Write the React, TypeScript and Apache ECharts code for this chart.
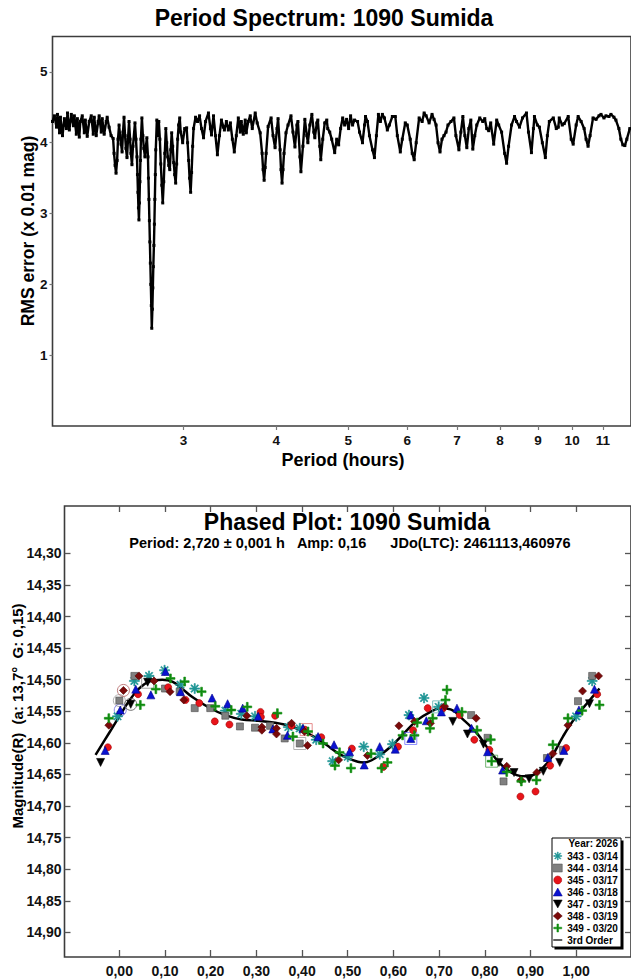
import React, { useEffect, useRef } from "react";
import * as echarts from "echarts";

// ---------- Period spectrum ----------
const spectrumPeriod = [
  2.000, 2.012, 2.025, 2.031, 2.044, 2.050, 2.063, 2.075, 2.088, 2.095,
  2.107, 2.120, 2.134, 2.140, 2.153, 2.160, 2.173, 2.180, 2.193, 2.207,
  2.214, 2.227, 2.241, 2.255, 2.269, 2.276, 2.290, 2.304, 2.311, 2.326,
  2.333, 2.347, 2.362, 2.369, 2.383, 2.398, 2.413, 2.420, 2.428, 2.435,
  2.443, 2.450, 2.458, 2.466, 2.473, 2.481, 2.488, 2.496, 2.504, 2.511,
  2.519, 2.527, 2.535, 2.543, 2.550, 2.558, 2.566, 2.582, 2.590, 2.598,
  2.602, 2.606, 2.610, 2.614, 2.618, 2.622, 2.626, 2.630, 2.638, 2.646,
  2.654, 2.663, 2.671, 2.679, 2.688, 2.692, 2.696, 2.700, 2.704, 2.708,
  2.712, 2.716, 2.720, 2.725, 2.729, 2.733, 2.738, 2.742, 2.746, 2.750,
  2.754, 2.763, 2.771, 2.780, 2.789, 2.797, 2.806, 2.814, 2.823, 2.832,
  2.841, 2.849, 2.858, 2.867, 2.876, 2.885, 2.893, 2.902, 2.911, 2.920,
  2.929, 2.938, 2.947, 2.956, 2.966, 2.975, 2.993, 3.012, 3.030, 3.039,
  3.049, 3.058, 3.068, 3.077, 3.087, 3.096, 3.115, 3.134, 3.154, 3.173,
  3.193, 3.213, 3.242, 3.262, 3.273, 3.293, 3.313, 3.333, 3.354, 3.375,
  3.396, 3.406, 3.427, 3.448, 3.470, 3.491, 3.512, 3.534, 3.556, 3.578,
  3.589, 3.611, 3.633, 3.645, 3.667, 3.690, 3.713, 3.747, 3.770, 3.805,
  3.828, 3.840, 3.852, 3.864, 3.876, 3.900, 3.936, 3.960, 3.985, 4.009,
  4.022, 4.047, 4.059, 4.072, 4.084, 4.097, 4.122, 4.148, 4.186, 4.212,
  4.238, 4.264, 4.277, 4.304, 4.317, 4.344, 4.370, 4.397, 4.411, 4.438,
  4.466, 4.493, 4.507, 4.535, 4.549, 4.577, 4.591, 4.619, 4.648, 4.677,
  4.691, 4.720, 4.749, 4.793, 4.823, 4.852, 4.882, 4.913, 4.943, 4.973,
  5.004, 5.035, 5.066, 5.097, 5.145, 5.176, 5.224, 5.257, 5.273, 5.305,
  5.338, 5.388, 5.421, 5.454, 5.488, 5.522, 5.556, 5.591, 5.642, 5.677,
  5.730, 5.783, 5.819, 5.873, 5.909, 5.964, 6.001, 6.056, 6.094, 6.131,
  6.169, 6.226, 6.284, 6.323, 6.362, 6.421, 6.480, 6.520, 6.561, 6.601,
  6.642, 6.683, 6.724, 6.766, 6.808, 6.871, 6.934, 6.977, 7.042, 7.085,
  7.129, 7.173, 7.217, 7.262, 7.307, 7.352, 7.397, 7.443, 7.512, 7.582,
  7.629, 7.676, 7.723, 7.771, 7.843, 7.916, 7.965, 8.038, 8.113, 8.163,
  8.213, 8.289, 8.366, 8.418, 8.496, 8.575, 8.681, 8.735, 8.816, 8.870,
  8.898, 8.980, 9.036, 9.119, 9.204, 9.261, 9.318, 9.433, 9.521, 9.580,
  9.609, 9.698, 9.758, 9.879, 9.971, 10.032, 10.125, 10.188, 10.282, 10.378,
  10.442, 10.506, 10.571, 10.669, 10.768, 10.868, 10.935, 11.036, 11.105, 11.208,
  11.277, 11.382, 11.452, 11.558, 11.629, 11.701, 11.773, 11.846, 11.956,
];
const spectrumRms = [
  4.30, 4.38, 4.22, 4.40, 4.14, 4.36, 4.10, 4.34, 4.20, 4.42,
  4.18, 4.40, 4.24, 4.38, 4.12, 4.34, 4.08, 4.30, 4.38, 4.14,
  4.32, 4.09, 4.30, 4.38, 4.12, 4.36, 4.10, 4.30, 4.38, 4.15,
  4.34, 4.12, 4.30, 4.36, 4.22, 4.10, 4.06, 3.85, 3.68, 3.57,
  3.75, 4.05, 4.25, 4.10, 3.98, 3.87, 4.15, 4.36, 4.10, 3.92,
  3.79, 4.05, 4.30, 4.05, 3.85, 3.69, 3.95, 4.28, 4.05, 3.80,
  3.55, 3.30, 3.08, 2.91, 3.15, 3.45, 3.75, 4.05, 4.35, 4.10,
  3.92, 3.80, 3.95, 4.07, 3.80, 3.50, 3.20, 2.90, 2.60, 2.30,
  2.00, 1.70, 1.38, 1.65, 1.95, 2.25, 2.55, 2.85, 3.20, 3.55,
  3.90, 4.32, 4.10, 4.30, 4.05, 3.70, 3.40, 3.15, 3.45, 3.85,
  4.20, 4.00, 3.80, 3.68, 3.62, 3.90, 4.14, 3.95, 3.72, 3.55,
  3.43, 3.70, 4.05, 4.25, 4.35, 4.15, 4.00, 4.20, 4.21, 4.00,
  3.75, 3.50, 3.30, 3.58, 3.95, 4.20, 4.36, 4.30, 4.38, 4.20,
  4.07, 4.30, 4.42, 4.20, 4.11, 4.38, 4.10, 3.83, 4.10, 4.32,
  4.22, 4.18, 4.30, 4.18, 4.28, 4.05, 3.87, 4.10, 4.35, 4.15,
  4.30, 4.12, 4.32, 4.14, 4.30, 4.38, 4.20, 4.42, 4.28, 4.14,
  3.85, 3.62, 3.47, 3.65, 3.85, 4.23, 4.35, 4.10, 3.93, 4.20,
  4.34, 3.90, 3.62, 3.43, 3.62, 3.85, 4.14, 4.25, 4.38, 4.15,
  3.94, 4.25, 4.30, 3.80, 3.59, 3.95, 4.33, 4.10, 4.00, 4.25,
  4.40, 4.15, 4.07, 4.28, 4.32, 3.95, 3.76, 4.05, 4.28, 4.32,
  4.20, 4.15, 4.05, 3.86, 4.05, 3.97, 4.20, 4.35, 4.25, 4.33,
  4.20, 4.38, 4.25, 4.32, 4.30, 4.15, 4.00, 4.25, 4.37, 4.30,
  4.10, 3.90, 3.79, 4.10, 4.40, 4.30, 4.40, 4.35, 4.18, 4.25,
  4.37, 4.37, 4.10, 3.87, 4.05, 4.28, 4.25, 4.05, 3.85, 3.76,
  4.00, 4.35, 4.30, 4.42, 4.38, 4.28, 4.40, 4.33, 4.25, 4.00,
  3.87, 4.05, 4.10, 4.15, 4.25, 4.30, 4.35, 4.10, 3.90, 4.15,
  4.37, 4.10, 3.93, 4.20, 4.32, 3.91, 4.10, 4.25, 4.35, 4.30,
  4.34, 4.20, 4.17, 4.28, 3.98, 4.32, 4.25, 4.15, 3.85, 3.71,
  3.95, 4.25, 4.37, 4.30, 4.22, 4.35, 4.42, 4.15, 3.86, 4.20,
  4.37, 4.25, 4.22, 4.00, 3.79, 4.10, 4.30, 4.35, 4.20, 4.22,
  4.35, 4.25, 4.27, 4.37, 4.05, 3.98, 4.25, 4.37, 4.30, 4.20,
  4.05, 3.95, 4.10, 4.35, 4.33, 4.38, 4.40, 4.35, 4.38, 4.37,
  4.40, 4.36, 4.32, 4.20, 4.05, 3.97, 3.96, 4.05, 4.20,
];
const periodTicks = [3, 4, 5, 6, 7, 8, 9, 10, 11];
const rmsTicks = [1, 2, 3, 4, 5];

// ---------- Phased plot ----------
const phaseTicks = [0, 0.1, 0.2, 0.3, 0.4, 0.5, 0.6, 0.7, 0.8, 0.9, 1.0];
const magTicks = [14.3, 14.35, 14.4, 14.45, 14.5, 14.55, 14.6, 14.65, 14.7, 14.75, 14.8, 14.85, 14.9];

const fitPhase = [
  -0.052, -0.022, 0.0, 0.022, 0.043, 0.065, 0.094, 0.116, 0.137, 0.159,
  0.196, 0.232, 0.268, 0.304, 0.341, 0.377, 0.413, 0.449, 0.485, 0.522,
  0.536, 0.565, 0.594, 0.623, 0.652, 0.681, 0.703, 0.725, 0.754, 0.783,
  0.812, 0.841, 0.870, 0.891, 0.913, 0.942, 0.971, 1.0, 1.029, 1.051,
];
const fitMag = [
  14.619, 14.584, 14.558, 14.533, 14.514, 14.503, 14.500, 14.503, 14.514, 14.527,
  14.544, 14.556, 14.563, 14.565, 14.568, 14.574, 14.585, 14.601, 14.619, 14.630,
  14.631, 14.622, 14.606, 14.585, 14.564, 14.551, 14.545, 14.547, 14.564, 14.585,
  14.614, 14.638, 14.651, 14.653, 14.648, 14.627, 14.590, 14.558, 14.533, 14.514,
];

const s343 = [
  [-0.004, 14.558], [0.033, 14.502], [0.065, 14.494], [0.099, 14.485], [0.134, 14.508],
  [0.165, 14.514], [0.232, 14.549], [0.267, 14.554], [0.297, 14.558], [0.370, 14.575],
  [0.395, 14.577], [0.431, 14.595], [0.467, 14.629], [0.500, 14.622], [0.535, 14.606],
  [0.570, 14.618], [0.598, 14.602], [0.634, 14.556], [0.667, 14.529], [0.699, 14.543],
  [1.000, 14.558], [1.035, 14.502],
];
const s344 = [
  [0.000, 14.533], [0.033, 14.494], [0.100, 14.514], [0.132, 14.519], [0.165, 14.545],
  [0.199, 14.545], [0.232, 14.557], [0.264, 14.574], [0.297, 14.576], [0.330, 14.573],
  [0.362, 14.593], [0.395, 14.601], [0.770, 14.556], [0.806, 14.592], [0.841, 14.661],
  [0.936, 14.624], [0.971, 14.611], [1.004, 14.534], [1.035, 14.494],
];
const s345 = [
  [-0.025, 14.607], [0.041, 14.523], [0.107, 14.512], [0.145, 14.532], [0.175, 14.537],
  [0.209, 14.566], [0.241, 14.571], [0.309, 14.551], [0.310, 14.559], [0.341, 14.557],
  [0.377, 14.573], [0.406, 14.579], [0.442, 14.591], [0.509, 14.609], [0.578, 14.638],
  [0.610, 14.606], [0.643, 14.580], [0.675, 14.545], [0.709, 14.545], [0.745, 14.556],
  [0.777, 14.595], [0.810, 14.611], [0.878, 14.685], [0.911, 14.677], [0.943, 14.636],
  [0.978, 14.608], [1.046, 14.523],
];
const s346 = [
  [-0.031, 14.612], [0.002, 14.548], [0.036, 14.515], [0.069, 14.524], [0.101, 14.487],
  [0.134, 14.519], [0.203, 14.529], [0.237, 14.538], [0.270, 14.545], [0.304, 14.558],
  [0.336, 14.578], [0.368, 14.588], [0.402, 14.577], [0.435, 14.590], [0.470, 14.603],
  [0.504, 14.614], [0.536, 14.635], [0.570, 14.606], [0.604, 14.610], [0.638, 14.593],
  [0.638, 14.556], [0.672, 14.565], [0.705, 14.551], [0.739, 14.545], [0.771, 14.577],
  [0.806, 14.614], [0.839, 14.643], [0.938, 14.623], [0.973, 14.612], [1.006, 14.548],
  [1.040, 14.515],
];
const s347 = [
  [-0.041, 14.631], [0.025, 14.539], [0.062, 14.504], [0.730, 14.566], [0.762, 14.586],
  [0.797, 14.602], [0.831, 14.631], [0.864, 14.647], [0.897, 14.657], [0.928, 14.645],
  [0.964, 14.631], [1.029, 14.538],
];
const s348 = [
  [-0.023, 14.572], [0.009, 14.517], [0.043, 14.494], [0.076, 14.502], [0.111, 14.519],
  [0.141, 14.532], [0.279, 14.557], [0.312, 14.575], [0.312, 14.580], [0.344, 14.577],
  [0.344, 14.586], [0.377, 14.569], [0.405, 14.582], [0.412, 14.604], [0.480, 14.627],
  [0.543, 14.620], [0.612, 14.573], [0.646, 14.566], [0.681, 14.569], [0.712, 14.542],
  [0.781, 14.561], [0.848, 14.637], [0.879, 14.659], [0.914, 14.647], [0.949, 14.617],
  [0.982, 14.572], [1.014, 14.518], [1.049, 14.494],
];
const s349 = [
  [-0.023, 14.561], [0.046, 14.540], [0.080, 14.515], [0.112, 14.498], [0.143, 14.503],
  [0.180, 14.519], [0.210, 14.542], [0.245, 14.548], [0.280, 14.543], [0.346, 14.553],
  [0.380, 14.590], [0.413, 14.582], [0.446, 14.601], [0.472, 14.636], [0.482, 14.615],
  [0.507, 14.640], [0.551, 14.617], [0.574, 14.640], [0.587, 14.631], [0.620, 14.588],
  [0.646, 14.588], [0.652, 14.568], [0.680, 14.577], [0.686, 14.561], [0.714, 14.532],
  [0.717, 14.516], [0.750, 14.551], [0.783, 14.580], [0.813, 14.595], [0.815, 14.629],
  [0.848, 14.646], [0.880, 14.661], [0.913, 14.659], [0.949, 14.603], [0.982, 14.561],
  [1.013, 14.549], [1.051, 14.540],
];
// open markers drawn around selected observations
const markPhase = [0.000, 0.002, 0.009, 0.025, 0.062, 0.395, 0.409, 0.638, 0.699, 0.815];
const markMag = [14.533, 14.548, 14.517, 14.539, 14.504, 14.601, 14.579, 14.593, 14.543, 14.629];
const markShape = ["circle", "circle", "circle", "circle", "rect", "rect", "rect", "rect", "rect", "rect"];
const markColor = ["#a0a0a0", "#7070e0", "#b06060", "#505050", "#909090", "#a0a0a0", "#e07070", "#7070ff", "#60b0b0", "#50a050"];

const FONT = "'Liberation Sans', Arial, Helvetica, sans-serif";

const ASTERISK =
  "path://M0 8.8H20V11.2H0Z M8.8 0H11.2V20H8.8Z M2.08 3.78L3.78 2.08L17.92 16.22L16.22 17.92Z M16.22 2.08L17.92 3.78L3.78 17.92L2.08 16.22Z";
const PLUS = "path://M8 0H12V8H20V12H12V20H8V12H0V8H8Z";
const DOWN_TRI = "path://M0 0H20L10 18Z";
const LINE_ICON = "path://M0 8.6H20V11.4H0Z";

const comma = (v: number) => v.toFixed(2).replace(".", ",");
const NB = "\u00A0";

export default function App() {
  const ref = useRef<HTMLDivElement>(null);
  useEffect(() => {
    if (!ref.current) return;
    const chart = echarts.init(ref.current, undefined, { renderer: "svg" });

    const sessions = [
      { name: "343 - 03/14", data: s343, symbol: ASTERISK, icon: ASTERISK, size: 10, color: "#1f9595", border: "#1f9595", rotate: 0 },
      { name: "344 - 03/14", data: s344, symbol: "rect", icon: "rect", size: 7, color: "#808080", border: "#4a4a4a", rotate: 0 },
      { name: "345 - 03/17", data: s345, symbol: "circle", icon: "circle", size: 7, color: "#e8141a", border: "#a00000", rotate: 0 },
      { name: "346 - 03/18", data: s346, symbol: "triangle", icon: "triangle", size: 8, color: "#0a12d0", border: "#00008a", rotate: 0 },
      { name: "347 - 03/19", data: s347, symbol: "triangle", icon: DOWN_TRI, size: 8, color: "#000000", border: "#000000", rotate: 180 },
      { name: "348 - 03/19", data: s348, symbol: "diamond", icon: "diamond", size: 8, color: "#7a0a0a", border: "#500000", rotate: 0 },
      { name: "349 - 03/20", data: s349, symbol: PLUS, icon: PLUS, size: 9, color: "#0f8c0f", border: "#0f8c0f", rotate: 0 },
    ];

    const lbl = { fontFamily: FONT, fontWeight: "bold" as const, color: "#111" };
    const noLine = { show: false, onZero: false };
    const tickStyle = { color: "#555", width: 1.3 };

    const option: any = {
      animation: false,
      backgroundColor: "#ffffff",
      grid: [
        { left: 52.5, top: 36.5, width: 582.4, height: 389.5, show: true, borderColor: "#3c3c3c", borderWidth: 1.6, backgroundColor: "transparent" },
        { left: 64.5, top: 506, width: 570.4, height: 451, show: true, borderColor: "#3c3c3c", borderWidth: 1.6, backgroundColor: "transparent" },
      ],
      xAxis: [
        {
          gridIndex: 0, type: "value", min: Math.log10(2), max: Math.log10(12),
          axisLine: noLine, splitLine: { show: false },
          axisTick: { show: true, inside: false, length: 4, customValues: periodTicks.map((p) => Math.log10(p)), lineStyle: { color: "#777", width: 1.2 } },
          axisLabel: {
            ...lbl, fontSize: 13.5, margin: 7,
            customValues: periodTicks.map((p) => Math.log10(p)),
            formatter: (v: number) => String(Math.round(Math.pow(10, v))),
          },
        },
        {
          gridIndex: 1, type: "value", min: -0.12, max: 1.12, position: "bottom",
          axisLine: noLine, splitLine: { show: false },
          axisTick: { show: true, inside: true, length: 7, customValues: phaseTicks, lineStyle: tickStyle },
          axisLabel: { ...lbl, fontSize: 14, margin: 7, customValues: phaseTicks, formatter: (v: number) => comma(v) },
        },
        {
          gridIndex: 1, type: "value", min: -0.12, max: 1.12, position: "top",
          axisLine: noLine, splitLine: { show: false },
          axisTick: { show: true, inside: true, length: 6, customValues: phaseTicks, lineStyle: tickStyle },
          axisLabel: { show: false },
        },
      ],
      yAxis: [
        {
          gridIndex: 0, type: "value", min: 0, max: 5.5,
          axisLine: noLine, splitLine: { show: false },
          axisTick: { show: true, inside: false, length: 3, customValues: rmsTicks, lineStyle: { color: "#777", width: 1.2 } },
          axisLabel: { ...lbl, fontSize: 13.5, margin: 5, customValues: rmsTicks },
        },
        {
          gridIndex: 1, type: "value", min: 14.225, max: 14.939, inverse: true, position: "left",
          axisLine: noLine, splitLine: { show: false },
          axisTick: { show: true, inside: true, length: 6, customValues: magTicks, lineStyle: tickStyle },
          axisLabel: { ...lbl, fontSize: 14, margin: 3, customValues: magTicks, formatter: (v: number) => comma(v) },
        },
        {
          gridIndex: 1, type: "value", min: 14.225, max: 14.939, inverse: true, position: "right",
          axisLine: noLine, splitLine: { show: false },
          axisTick: { show: true, inside: true, length: 6, customValues: magTicks, lineStyle: tickStyle },
          axisLabel: { show: false },
        },
      ],
      legend: {
        show: true, orient: "vertical", left: 553, top: 850, padding: 0,
        itemWidth: 9, itemHeight: 8, itemGap: 0, selectedMode: false,
        textStyle: { fontFamily: FONT, fontWeight: "bold", fontSize: 10, color: "#000", lineHeight: 12 },
        data: [
          ...sessions.map((s) => ({ name: s.name, icon: s.icon, itemStyle: { color: s.color, borderColor: s.border, borderWidth: 0.5 } })),
          { name: "3rd Order", icon: LINE_ICON, itemStyle: { color: "#000", borderWidth: 0 } },
        ],
        z: 10,
      },
      graphic: [
        { type: "text", x: 324, y: 18, style: { text: "Period Spectrum: 1090 Sumida", font: `bold 23px ${FONT}`, fill: "#000", textAlign: "center", textVerticalAlign: "middle" } },
        { type: "text", x: 28, y: 231, rotation: Math.PI / 2, style: { text: "RMS error (x 0.01 mag)", font: `bold 17.5px ${FONT}`, fill: "#000", textAlign: "center", textVerticalAlign: "middle" } },
        { type: "text", x: 343, y: 460, style: { text: "Period (hours)", font: `bold 18px ${FONT}`, fill: "#000", textAlign: "center", textVerticalAlign: "middle" } },
        { type: "text", x: 347, y: 522, style: { text: "Phased Plot: 1090 Sumida", font: `bold 23px ${FONT}`, fill: "#000", textAlign: "center", textVerticalAlign: "middle" } },
        { type: "text", x: 350, y: 542.5, style: { text: `Period: 2,720 ± 0,001 h${NB}${NB}${NB}Amp: 0,16${NB}${NB}${NB}${NB}${NB}${NB}JDo(LTC): 2461113,460976`, font: `bold 14.5px ${FONT}`, fill: "#000", textAlign: "center", textVerticalAlign: "middle" } },
        { type: "text", x: 17, y: 716, rotation: Math.PI / 2, style: { text: `Magnitude(R)${NB}${NB}(a: 13,7°${NB}${NB}G: 0,15)`, font: `bold 15px ${FONT}`, fill: "#000", textAlign: "center", textVerticalAlign: "middle" } },
        { type: "rect", z: 5, shape: { x: 554.5, y: 840.5, width: 69, height: 109 }, style: { fill: "#000" } },
        { type: "rect", z: 6, shape: { x: 552, y: 838, width: 69, height: 109 }, style: { fill: "#fff", stroke: "#000", lineWidth: 1 } },
        { type: "text", z: 7, x: 618, y: 843.5, style: { text: "Year: 2026", font: `bold 10px ${FONT}`, fill: "#000", textAlign: "right", textVerticalAlign: "middle" } },
      ],
      series: [
        {
          type: "line", name: "spectrum", xAxisIndex: 0, yAxisIndex: 0,
          data: spectrumPeriod.map((p, i) => [Math.log10(p), spectrumRms[i]]),
          symbol: "rect", symbolSize: 3, showSymbol: true,
          lineStyle: { color: "#000", width: 2.4 }, itemStyle: { color: "#000" },
          silent: true,
        },
        {
          type: "line", name: "3rd Order", xAxisIndex: 1, yAxisIndex: 1,
          data: fitPhase.map((p, i) => [p, fitMag[i]]),
          smooth: 0.4, symbol: "none", showSymbol: false,
          lineStyle: { color: "#000", width: 2.5 }, itemStyle: { color: "#000" }, z: 2,
        },
        {
          type: "scatter", name: "marks", xAxisIndex: 1, yAxisIndex: 1, z: 2,
          data: markPhase.map((p, i) => ({
            value: [p, markMag[i]],
            symbol: markShape[i],
            symbolSize: 12,
            itemStyle: { color: "rgba(0,0,0,0)", borderColor: markColor[i], borderWidth: 1 },
          })),
        },
        ...sessions.map((s) => ({
          type: "scatter", name: s.name, xAxisIndex: 1, yAxisIndex: 1, z: 3,
          data: s.data, symbol: s.symbol, symbolSize: s.size, symbolRotate: s.rotate,
          itemStyle: { color: s.color, borderColor: s.border, borderWidth: 0.6, opacity: 1 },
        })),
      ],
    };
    chart.setOption(option);
    return () => chart.dispose();
  }, []);

  return <div ref={ref} style={{ position: "absolute", left: 0, top: 0, width: 631, height: 979 }} />;
}
